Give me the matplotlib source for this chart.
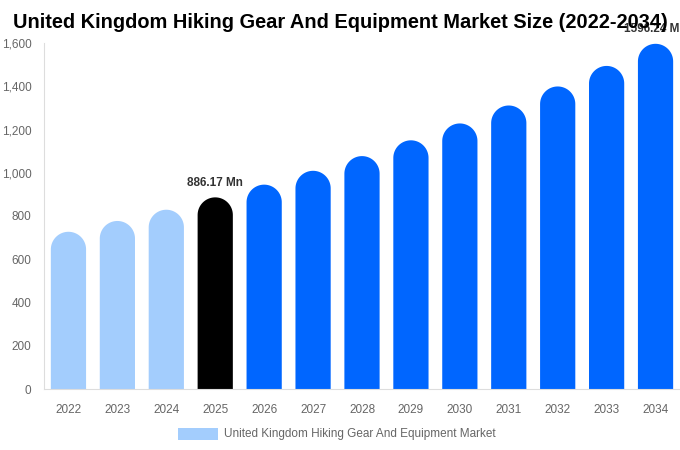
import matplotlib
matplotlib.use("Agg")
import numpy as np
import matplotlib.pyplot as plt
from matplotlib.patches import Rectangle, Polygon

years = ["2022", "2023", "2024", "2025", "2026", "2027", "2028", "2029", "2030", "2031", "2032", "2033", "2034"]
values = [727, 777, 829, 886.17, 945, 1009, 1077, 1150, 1228, 1311, 1399, 1494, 1596.24]
colors = ["#a3cdfd"] * 3 + ["#000000"] + ["#0066ff"] * 9
labels = {3: "886.17 Mn", 12: "1596.24 Mn"}
legend_label = "United Kingdom Hiking Gear And Equipment Market"
title = "United Kingdom Hiking Gear And Equipment Market Size (2022-2034)"

plt.rcParams['font.family'] = ['Liberation Sans', 'DejaVu Sans']

W, H = 680, 450
fig = plt.figure(figsize=(W / 100, H / 100), dpi=100)
ax_left, ax_right, ax_top, ax_bot = 44, 680, 43, 389
ax = fig.add_axes([ax_left / W, 1 - ax_bot / H, (ax_right - ax_left) / W, (ax_bot - ax_top) / H])
ymax = 1600
ax.set_xlim(-0.5, len(years) - 0.5)
ax.set_ylim(0, ymax)

px_per_unit = (ax_bot - ax_top) / ymax
px_per_x = (ax_right - ax_left) / len(years)
bw = 0.72
r_data = (bw * px_per_x / 2) / px_per_unit
t = np.linspace(0, np.pi, 60)

for i, (v, c) in enumerate(zip(values, colors)):
    xs = i + (bw / 2) * np.cos(t)
    ys = (v - r_data) + r_data * np.sin(t)
    pts = [(i + bw / 2, 0)] + list(zip(xs, ys)) + [(i - bw / 2, 0)]
    ax.add_patch(Polygon(pts, closed=True, facecolor=c, edgecolor='none'))
    if i in labels:
        ax.text(i, v + 40, labels[i], ha='center', va='bottom', fontsize=8.5,
                fontweight='bold', color='#333333', clip_on=False)

ax.set_xticks(range(len(years)))
ax.set_xticklabels(years)
ax.set_yticks(range(0, 1601, 200))
ax.set_yticklabels([f"{t:,}" for t in range(0, 1601, 200)])
ax.tick_params(axis='both', length=0, labelsize=8.5, labelcolor='#666666')
ax.tick_params(axis='x', pad=11)
ax.tick_params(axis='y', pad=9)
for s in ['top', 'right']:
    ax.spines[s].set_visible(False)
for s in ['left', 'bottom']:
    ax.spines[s].set_color('#dddddd')
    ax.spines[s].set_linewidth(0.8)

fig.text(0.5, 1 - 22 / H, title, ha='center', va='center', fontsize=14.4,
         fontweight='bold', color='#000000')

fig.patches.append(Rectangle((178 / W, 1 - 440 / H), 40 / W, 12 / H,
                             transform=fig.transFigure, facecolor='#a3cdfd', edgecolor='none'))
fig.text(224 / W, 1 - 433.5 / H, legend_label, ha='left', va='center', fontsize=8.5, color='#666666')

fig.savefig("out.png", dpi=100)
